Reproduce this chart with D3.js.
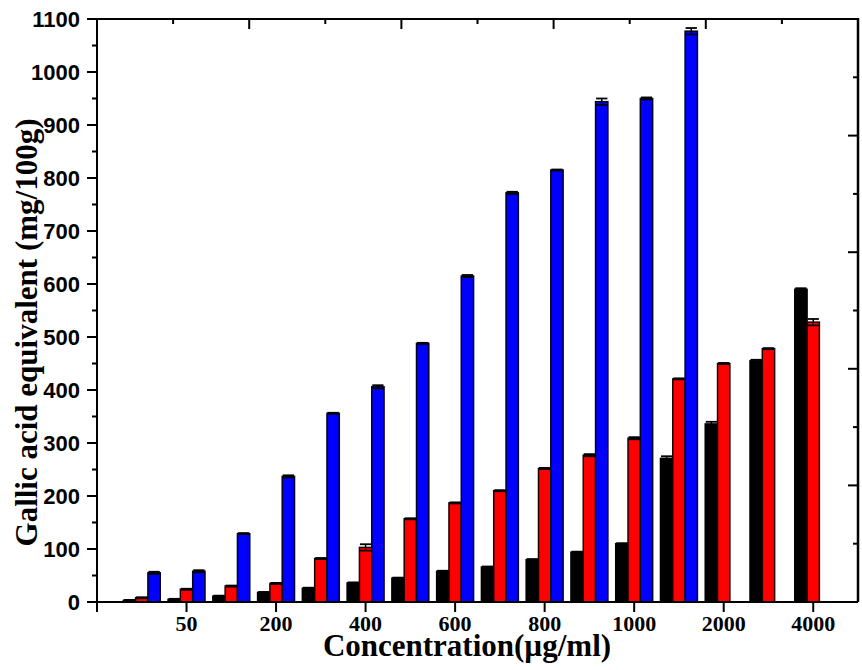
<!DOCTYPE html>
<html>
<head>
<meta charset="utf-8">
<script src="https://cdn.jsdelivr.net/npm/d3@7"></script>
<style>
  html, body { margin: 0; padding: 0; background: #fff; }
  svg { display: block; }
</style>
</head>
<body>
<script>
// ---- data ----
const categories = [1, 2, 3, 4, 5, 6, 7, 8, 9, 10, 11, 12, 13, 14, 15, 16];
const tickPositions = [2, 4, 6, 8, 10, 12, 14, 16];
const tickLabels = ["50", "200", "400", "600", "800", "1000", "2000", "4000"];
const blackValues = [3, 5, 11, 18, 26, 36, 45, 58, 66, 80, 94, 110, 271, 336, 455, 590];
const blackErrors = [1, 1, 1, 1, 1, 1, 1, 1, 1, 1, 1, 1, 4, 4, 2, 2];
const redValues = [8, 24, 30, 35, 82, 103, 157, 187, 210, 252, 277, 309, 421, 450, 478, 528];
const redErrors = [1, 1, 1, 1, 1, 6, 1, 1, 1, 1, 2, 2, 1, 1, 1, 6];
const blueValues = [55, 58, 129, 237, 356, 406, 488, 615, 772, 815, 944, 950, 1077];
const blueErrors = [2, 2, 1, 2, 1, 3, 1, 2, 2, 1, 6, 2, 6];
const yTicks = [0, 100, 200, 300, 400, 500, 600, 700, 800, 900, 1000, 1100];
const yTitle = "Gallic acid equivalent (mg/100g)";
const xTitle = "Concentration(\u00b5g/ml)";

(function () {
const W = 862, H = 670;
const pL = 97, pR = 858, pT = 19, pB = 602;

const svg = d3.select("body").append("svg").attr("width", W).attr("height", H);

const x = d3.scaleLinear().domain([0, 17]).range([pL, pR]);
const y = d3.scaleLinear().domain([0, 1100]).range([pB, pT]);
const barW = x(0.275) - x(0);

const series = [
  { name: "black", values: blackValues, errors: blackErrors, fill: "#000000", stroke: "#000000", offset: -1 },
  { name: "red", values: redValues, errors: redErrors, fill: "#ff0000", stroke: "#1a0000", offset: 0 },
  { name: "blue", values: blueValues, errors: blueErrors, fill: "#0000ff", stroke: "#000020", offset: 1 }
];

const g = svg.append("g");

series.forEach(s => {
  const data = s.values.map((v, i) => ({ c: categories[i], v, e: s.errors[i] }));
  const cx = d => x(d.c) + s.offset * barW;
  g.selectAll(null).data(data).enter().append("rect")
    .attr("x", d => cx(d) - barW / 2)
    .attr("y", d => y(d.v))
    .attr("width", barW)
    .attr("height", d => y(0) - y(d.v))
    .attr("fill", s.fill)
    .attr("stroke", s.stroke)
    .attr("stroke-width", 1.5);
  const eg = g.selectAll(null).data(data).enter().append("g");
  eg.append("line")
    .attr("x1", cx).attr("x2", cx)
    .attr("y1", d => y(d.v + d.e)).attr("y2", d => y(d.v - d.e))
    .attr("stroke", "#000").attr("stroke-width", 1.5);
  eg.append("line")
    .attr("x1", d => cx(d) - barW / 2 + 0.5).attr("x2", d => cx(d) + barW / 2 - 0.5)
    .attr("y1", d => y(d.v + d.e)).attr("y2", d => y(d.v + d.e))
    .attr("stroke", "#000").attr("stroke-width", 1.8);
  eg.append("line")
    .attr("x1", d => cx(d) - barW / 2 + 0.5).attr("x2", d => cx(d) + barW / 2 - 0.5)
    .attr("y1", d => y(d.v - d.e)).attr("y2", d => y(d.v - d.e))
    .attr("stroke", "#000").attr("stroke-width", 1.8);
});

// ---- axes ----
const axisG = svg.append("g");

axisG.append("line").attr("x1", pL).attr("x2", pR).attr("y1", pB).attr("y2", pB)
  .attr("stroke", "#000").attr("stroke-width", 2);
axisG.append("line").attr("x1", pL).attr("x2", pR).attr("y1", pT).attr("y2", pT)
  .attr("stroke", "#000").attr("stroke-width", 2);
axisG.append("line").attr("x1", pL).attr("x2", pL).attr("y1", pT).attr("y2", pB)
  .attr("stroke", "#000").attr("stroke-width", 2);
axisG.append("line").attr("x1", pR).attr("x2", pR).attr("y1", pT - 1).attr("y2", pB)
  .attr("stroke", "#000").attr("stroke-width", 2.5);

const yMinor = d3.range(50, 1100, 100);
axisG.selectAll(null).data(yTicks).enter().append("line")
  .attr("x1", pL - 10).attr("x2", pL).attr("y1", d => y(d)).attr("y2", d => y(d))
  .attr("stroke", "#000").attr("stroke-width", 2);
axisG.selectAll(null).data(yMinor).enter().append("line")
  .attr("x1", pL - 5).attr("x2", pL).attr("y1", d => y(d)).attr("y2", d => y(d))
  .attr("stroke", "#000").attr("stroke-width", 2);
axisG.selectAll(null).data(yTicks).enter().append("text")
  .attr("x", 80).attr("y", d => y(d) + 8)
  .attr("text-anchor", "end")
  .attr("font-family", "'Liberation Sans', Arial, sans-serif")
  .attr("font-weight", "bold").attr("font-size", 22)
  .text(d => d);

const bottomTicks = [0].concat(tickPositions);
axisG.selectAll(null).data(bottomTicks).enter().append("line")
  .attr("x1", d => x(d)).attr("x2", d => x(d)).attr("y1", pB).attr("y2", pB + 10)
  .attr("stroke", "#000").attr("stroke-width", 2);
axisG.selectAll(null).data(tickPositions).enter().append("text")
  .attr("x", d => x(d)).attr("y", 631)
  .attr("text-anchor", "middle")
  .attr("font-family", "'Liberation Serif', 'Times New Roman', serif")
  .attr("font-weight", "bold").attr("font-size", 22)
  .text((d, i) => tickLabels[i]);

const xTop = d3.scaleLinear().domain([0, 10]).range([pL, pR]);
axisG.selectAll(null).data(d3.range(1, 10)).enter().append("line")
  .attr("x1", d => xTop(d)).attr("x2", d => xTop(d))
  .attr("y1", pT).attr("y2", d => pT + (d % 2 === 0 ? 10 : 5))
  .attr("stroke", "#000").attr("stroke-width", 2);

const yRight = d3.scaleLinear().domain([0, 10]).range([pB, pT]);
axisG.selectAll(null).data(d3.range(1, 10)).enter().append("line")
  .attr("x1", pR).attr("x2", d => pR - (d % 2 === 0 ? 10 : 5))
  .attr("y1", d => yRight(d)).attr("y2", d => yRight(d))
  .attr("stroke", "#000").attr("stroke-width", 2);

svg.append("text")
  .attr("transform", `translate(37, ${(pT + pB) / 2 + 22}) rotate(-90)`)
  .attr("text-anchor", "middle")
  .attr("font-family", "'Liberation Serif', 'Times New Roman', serif")
  .attr("font-weight", "bold").attr("font-size", 31)
  .text(yTitle);

svg.append("text")
  .attr("x", 467).attr("y", 656)
  .attr("text-anchor", "middle")
  .attr("font-family", "'Liberation Serif', 'Times New Roman', serif")
  .attr("font-weight", "bold").attr("font-size", 31)
  .text(xTitle);
})();
</script>
</body>
</html>
